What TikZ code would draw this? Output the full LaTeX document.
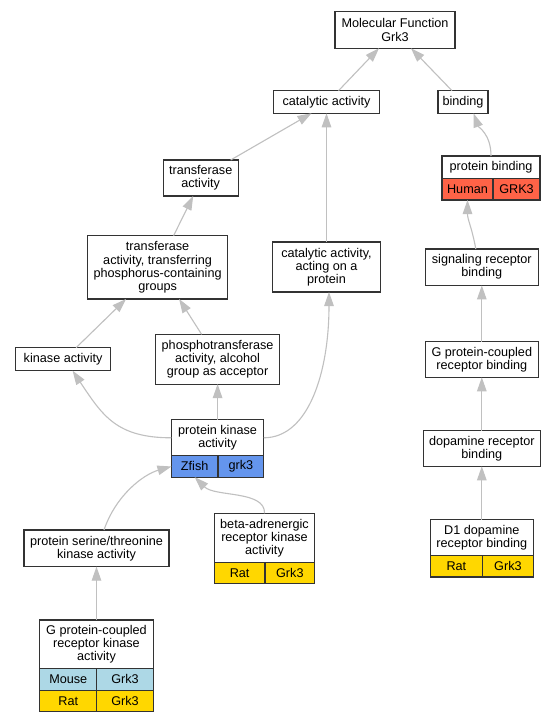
\documentclass[tikz,border=0pt]{standalone}
\usepackage{fontspec}
\setmainfont{Liberation Sans}
\usepackage{tikz}
\usetikzlibrary{arrows.meta, positioning}
\definecolor{edgegray}{HTML}{C0C0C0}
\definecolor{zfishblue}{HTML}{6495ED}
\definecolor{humanred}{HTML}{FF6347}
\definecolor{ratgold}{HTML}{FFD700}
\definecolor{mouseblue}{HTML}{ADD8E6}
\newcommand{\gofont}{\fontsize{12.7}{13.1}\selectfont}
\tikzset{
  go node/.style={draw=black!80, line width=1.1bp, fill=white, align=center, inner sep=0pt, outer sep=0pt, font=\gofont},
  box size/.style 2 args={minimum width=#1bp, minimum height=#2bp},
  cell/.style={go node, fill=#1, anchor=north west},
  go edge/.style={-{Triangle[length=14bp,width=9.5bp]}, color=edgegray, line width=1.1bp}
}

\begin{document}
\begin{tikzpicture}[x=1bp, y=-1bp]
  \path[fill=white] (0,0) rectangle (557,723);
  \useasboundingbox (0,0) rectangle (557,723);
  % terms
  \node[go node, box size={120}{36.5}] (root) at (395,30) {Molecular Function\\Grk3};
  \node[go node, box size={105.6}{22.6}] (cat) at (326.5,102) {catalytic activity};
  \node[go node, box size={50}{22.6}] (bind) at (463,102) {binding};
  \node[go node, box size={75}{36}] (transf) at (200.7,178) {transferase\\activity};
  \node[go node, box size={98}{22.5}] (pbind) at (491,167.25) {protein binding};
  \node[cell=humanred, box size={51}{21.5}] (pbind-sp) at (pbind.south west) {Human};
  \node[cell=humanred, box size={47}{21.5}] (pbind-id) at (pbind-sp.north east) {GRK3};
  \node[go node, box size={140}{63.3}] (ttrans) at (157.6,267.3) {transferase\\activity, transferring\\phosphorus-containing\\groups};
  \node[go node, box size={108}{50}] (catprot) at (326.5,267) {catalytic activity,\\acting on a\\protein};
  \node[go node, box size={112.5}{36.5}] (sigrec) at (481.8,267.2) {signaling receptor\\binding};
  \node[go node, box size={95}{23}] (kinase) at (63.1,359.2) {kinase activity};
  \node[go node, box size={124}{49.7}] (phospho) at (217.6,359.2) {phosphotransferase\\activity, alcohol\\group as acceptor};
  \node[go node, box size={112.5}{35.6}] (gpcrb) at (481.8,359.5) {G protein-coupled\\receptor binding};
  \node[go node, box size={92.3}{36}] (pka) at (217.6,437.8) {protein kinase\\activity};
  \node[cell=zfishblue, box size={46.5}{21.3}] (pka-sp) at (pka.south west) {Zfish};
  \node[cell=zfishblue, box size={45.8}{21.3}] (pka-id) at (pka-sp.north east) {grk3};
  \node[go node, box size={117}{35.6}] (dopa) at (481.8,448.5) {dopamine receptor\\binding};
  \node[go node, box size={145}{36.7}] (pst) at (96.5,548.3) {protein serine/threonine\\kinase activity};
  \node[go node, box size={100.4}{49.2}] (beta) at (264.5,537.9) {beta-adrenergic\\receptor kinase\\activity};
  \node[cell=ratgold, box size={50.7}{21}] (beta-sp) at (beta.south west) {Rat};
  \node[cell=ratgold, box size={49.7}{21}] (beta-id) at (beta-sp.north east) {Grk3};
  \node[go node, box size={103}{36}] (d1) at (481.8,537.7) {D1 dopamine\\receptor binding};
  \node[cell=ratgold, box size={52.2}{21.3}] (d1-sp) at (d1.south west) {Rat};
  \node[cell=ratgold, box size={50.8}{21.3}] (d1-id) at (d1-sp.north east) {Grk3};
  \node[go node, box size={113.5}{48.7}] (gpk) at (96.5,644.3) {G protein-coupled\\receptor kinase\\activity};
  \node[cell=mouseblue, box size={57.1}{21.6}] (gpk-sp) at (gpk.south west) {Mouse};
  \node[cell=mouseblue, box size={56.4}{21.6}] (gpk-id) at (gpk-sp.north east) {Grk3};
  \node[cell=ratgold, box size={57.1}{21.6}] (gpk-sp2) at (gpk-sp.south west) {Rat};
  \node[cell=ratgold, box size={56.4}{21.6}] (gpk-id2) at (gpk-sp2.north east) {Grk3};
  % is_a links, child to parent
  \draw[go edge] ([xshift=12bp]cat.north) -- ([xshift=-16bp]root.south);
  \draw[go edge] ([xshift=-11bp]bind.north) -- ([xshift=16bp]root.south);
  \draw[go edge] ([xshift=30bp]transf.north) -- ([xshift=-15bp]cat.south);
  \draw[go edge] (catprot) -- (cat);
  \draw[go edge] ([xshift=16bp]ttrans.north) -- ([xshift=-7.5bp]transf.south);
  \draw[go edge] ([xshift=13bp]kinase.north) -- ([xshift=-31.5bp]ttrans.south);
  \draw[go edge] ([xshift=-16bp]phospho.north) -- ([xshift=21.5bp]ttrans.south);
  \draw[go edge] (gpcrb) -- (sigrec);
  \draw[go edge] (pka) -- (phospho);
  \draw[go edge] (dopa) -- (gpcrb);
  \draw[go edge] (d1) -- (dopa);
  \draw[go edge] (gpk) -- (pst);
  \draw[go edge] (pbind.north) .. controls +(0,-22) and +(5,14) .. ([xshift=10.5bp]bind.south);
  \draw[go edge] ([xshift=-6bp]sigrec.north) .. controls +(-4,-22) and +(0,20) .. (pbind-sp.south);
  \draw[go edge] (pka.west) .. controls +(-55,0) and +(30,45) .. ([xshift=9.5bp]kinase.south);
  \draw[go edge] (pka.east) .. controls +(45,0) and +(0,80) .. ([xshift=2.5bp]catprot.south);
  \draw[go edge] ([xshift=7.5bp]pst.north) .. controls +(12,-35) and +(-28,8) .. (pka-sp.west);
  \draw[go edge] (beta.north) .. controls +(1,-23) and +(20,20) .. (pka-sp.south);
\end{tikzpicture}
\end{document}
